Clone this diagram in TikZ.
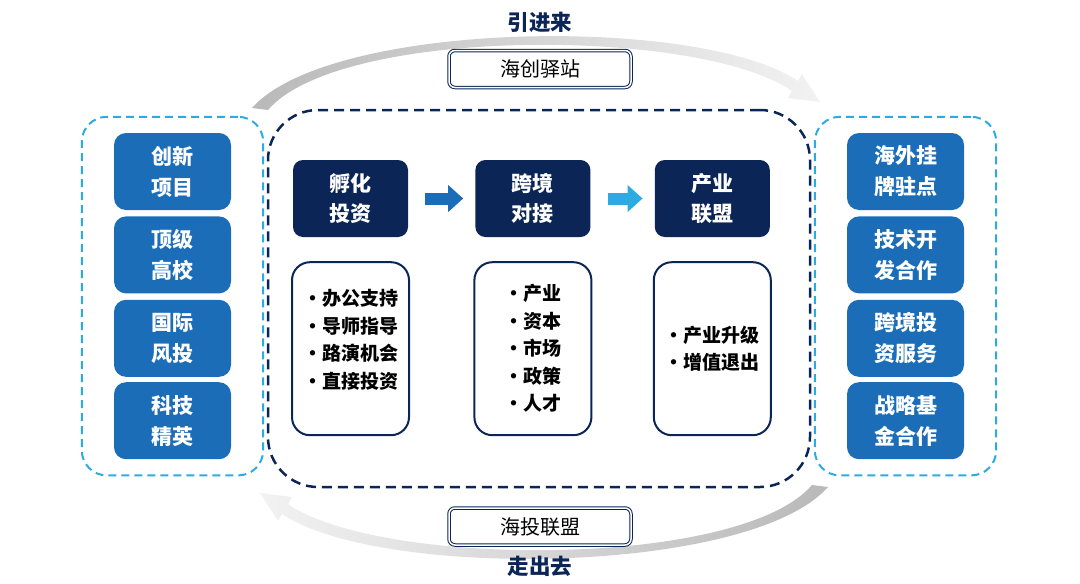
\documentclass[tikz,border=0pt]{standalone}
\usepackage{fontspec}
\setmainfont{Noto Sans CJK SC}
\usetikzlibrary{arrows.meta,positioning,calc,fit}
\definecolor{navy}{HTML}{0C2557}
\definecolor{midblue}{HTML}{1C6DB8}
\definecolor{skyblue}{HTML}{2CAAE2}
\newcommand{\itm}{\makebox[19pt][l]{\textbullet}}

\begin{document}
\begin{tikzpicture}[
  x=1pt, y=-1pt,
  stage/.style={
    fill=navy, rounded corners=10pt, text=white, align=center,
    minimum width=115pt, minimum height=77pt,
    font=\bfseries\fontsize{21}{30}\selectfont
  },
  detail/.style={
    draw=navy, line width=2pt, rounded corners=18pt, align=left,
    minimum width=117pt, minimum height=173pt, text=black,
    font=\bfseries\fontsize{19}{27.5}\selectfont
  },
  source/.style={
    fill=midblue, rounded corners=12pt, text=white, align=center,
    minimum width=117pt, minimum height=77pt,
    font=\bfseries\fontsize{21}{31}\selectfont
  },
  group/.style={draw=skyblue, dash pattern=on 8pt off 5pt, line width=2pt,
    rounded corners=25pt, inner xsep=32pt, inner ysep=16pt},
  core/.style={draw=navy, dash pattern=on 10pt off 6pt, line width=2.5pt,
    rounded corners=50pt, minimum width=542pt, minimum height=377pt},
  flow/.style={line width=12pt, -{Triangle[length=15pt,width=26pt]},
    shorten <=17pt, shorten >=12pt},
  hub/.style={draw=navy, double=white, double distance=1.5pt, line width=1pt,
    rounded corners=6pt, minimum width=182pt, minimum height=37pt,
    font=\fontsize{20}{24}\selectfont},
  title/.style={text=navy, font=\bfseries\fontsize{21.5}{24}\selectfont}
]
  \useasboundingbox (0,0) rectangle (1080,584);

  % Loop arcs
  \shade[left color=gray!55, right color=gray!10]
    (252,108) .. controls (330,20) and (700,15) .. (798,81)
    -- (802,74) -- (820,102) -- (788,98) -- (792,91)
    .. controls (700,27) and (340,26) .. (268,110) -- cycle;
  \shade[left color=gray!10, right color=gray!55]
    (828,487) .. controls (750,575) and (380,580) .. (282,514)
    -- (278,521) -- (260,493) -- (292,497) -- (288,504)
    .. controls (380,568) and (740,569) .. (812,485) -- cycle;

  \node[title] (bringin) at (540,22) {引进来};
  \node[title] (goout) at (540,566) {走出去};
  \node[hub] (station) at (540,69) {海创驿站};
  \node[hub] (league) at (540,526.5) {海投联盟};

  % Core process
  \node[core] (corebox) at (539,298.5) {};
  \node[stage] (incub) at (350.5,198.5) {孵化\\投资};
  \node[stage, right=67pt of incub] (cross) {跨境\\对接};
  \node[stage, right=64pt of cross] (alliance) {产业\\联盟};

  \draw[flow, draw=midblue] (incub.east) -- (cross.west);
  \draw[flow, draw=skyblue] (cross.east) -- (alliance.west);

  \node[detail, below=24pt of incub] (incubd)
    {\itm 办公支持\\\itm 导师指导\\\itm 路演机会\\\itm 直接投资\\[-8pt]};
  \node[detail, below=24pt of cross] (crossd)
    {\itm 产业\\\itm 资本\\\itm 市场\\\itm 政策\\\itm 人才};
  \node[detail, below=24pt of alliance] (allianced)
    {\itm 产业升级\\\itm 增值退出};

  % Inbound resources
  \node[source] (src1) at (172.5,171.5) {创新\\项目};
  \node[source, below=6pt of src1] (src2) {顶级\\高校};
  \node[source, below=6pt of src2] (src3) {国际\\风投};
  \node[source, below=5pt of src3] (src4) {科技\\精英};
  \node[group, fit=(src1)(src4)] (ingroup) {};

  % Outbound services
  \node[source] (dst1) at (905.5,171.5) {海外挂\\牌驻点};
  \node[source, below=6pt of dst1] (dst2) {技术开\\发合作};
  \node[source, below=6pt of dst2] (dst3) {跨境投\\资服务};
  \node[source, below=5pt of dst3] (dst4) {战略基\\金合作};
  \node[group, fit=(dst1)(dst4)] (outgroup) {};
\end{tikzpicture}
\end{document}
